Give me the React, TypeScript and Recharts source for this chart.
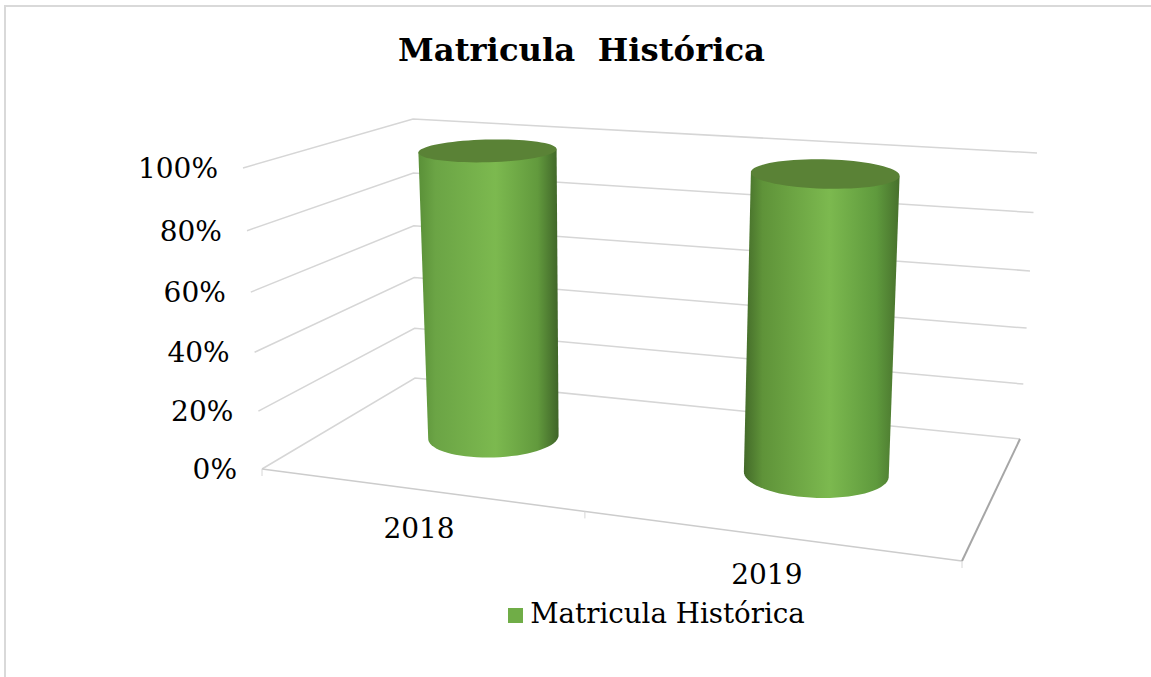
import { BarChart, Bar, XAxis, YAxis, Legend, Customized } from "recharts";

const categories = ["2018", "2019"];
const matricula = [100, 100];
const valueTicks = [0, 20, 40, 60, 80, 100];
const seriesName = "Matricula Histórica";

const data = categories.map((year, i) => ({ year, value: matricula[i] }));

const FONT = "'DejaVu Serif', serif";
const W = 1151;
const H = 677;
// plot rectangle: the front-left edge of the 3D box
const PLOT = { left: 262, right: 962, top: 168, bottom: 469 };

type Pt = [number, number];

// box corners on screen, [front-left, front-right, back-right, back-left]
const FLOOR: Pt[] = [[262, 469], [962, 561], [1020, 439], [415, 378]];
const CEILING: Pt[] = [[243, 168], [979, 233], [1037, 153], [413, 119]];

// the cylinders do not sit quite true to the box, per bar nudges
const TOP_SHIFT = [19, 24];
const TOP_SCALE = [1.07, 0.925];
const BASE_SHIFT = [6, 5.5];

// unit square -> quad
function homography(q: Pt[]) {
  const [[x0, y0], [x1, y1], [x2, y2], [x3, y3]] = q;
  const dx1 = x1 - x2, dx2 = x3 - x2, sx = x0 - x1 + x2 - x3;
  const dy1 = y1 - y2, dy2 = y3 - y2, sy = y0 - y1 + y2 - y3;
  const det = dx1 * dy2 - dx2 * dy1;
  const g = (sx * dy2 - dx2 * sy) / det;
  const h = (dx1 * sy - sx * dy1) / det;
  return (u: number, w: number): Pt => {
    const d = g * u + h * w + 1;
    return [
      ((x1 - x0 + g * x1) * u + (x3 - x0 + h * x3) * w + x0) / d,
      ((y1 - y0 + g * y1) * u + (y3 - y0 + h * y3) * w + y0) / d,
    ];
  };
}

const floorAt = homography(FLOOR);
const ceilAt = homography(CEILING);

// u across, w into the depth, v = value / 100
function project(u: number, w: number, v: number): Pt {
  const f = floorAt(u, w);
  const c = ceilAt(u, w);
  const k = 0.95;
  const t = (v * k) / (1 + (k - 1) * v);
  return [f[0] + (c[0] - f[0]) * t, f[1] + (c[1] - f[1]) * t];
}

const pathOf = (pts: Pt[]) => pts.map((p, i) => `${i ? "L" : "M"}${p[0].toFixed(1)} ${p[1].toFixed(1)}`).join(" ");

const GRADIENTS = [
  ["#5a9038", "#6ba445", "#7cb94f", "#629a3d", "#3f6428"],
  ["#436a29", "#5f9339", "#7cb94f", "#5f9a3d", "#47702c"],
];
const STOPS = ["0%", "12%", "55%", "85%", "100%"];

function Cylinder(props: any) {
  const { x, y, width, index } = props;
  const u = (x + width / 2 - PLOT.left) / (PLOT.right - PLOT.left);
  const v = (PLOT.bottom - y) / (PLOT.bottom - PLOT.top);
  const du = width / 2 / (PLOT.right - PLOT.left);
  const dw = 0.2;
  const ring = (val: number, shift: number, scale: number) => {
    const mid = project(u, 0.5, val)[0];
    const pts: Pt[] = [];
    for (let i = 0; i < 72; i++) {
      const a = (i / 72) * Math.PI * 2;
      const p = project(u + du * Math.cos(a), 0.5 + dw * Math.sin(a), val);
      pts.push([mid + (p[0] - mid) * scale + shift, p[1]]);
    }
    return pts;
  };
  const top = ring(v, TOP_SHIFT[index], TOP_SCALE[index]);
  const base = ring(0, BASE_SHIFT[index], 1);
  const leftmost = (p: Pt[]) => p.reduce((m, q) => (q[0] < m[0] ? q : m));
  const rightmost = (p: Pt[]) => p.reduce((m, q) => (q[0] > m[0] ? q : m));
  const bl = leftmost(base);
  const br = rightmost(base);
  // lower half of the base, right to left
  const lower = base
    .filter((p) => p[1] >= bl[1] + ((p[0] - bl[0]) / (br[0] - bl[0])) * (br[1] - bl[1]) - 0.5)
    .sort((a, b) => b[0] - a[0]);
  const body = pathOf([leftmost(top), rightmost(top), ...lower]) + " Z";
  const id = `cyl-${index}`;
  return (
    <g>
      <defs>
        <linearGradient id={id} x1="0" x2="1" y1="0" y2="0">
          {GRADIENTS[index].map((c, i) => (
            <stop key={i} offset={STOPS[i]} stopColor={c} />
          ))}
        </linearGradient>
      </defs>
      <path d={body} fill={`url(#${id})`} />
      <path d={pathOf(top) + " Z"} fill="#5a8236" />
    </g>
  );
}

function Walls() {
  const line = "#d6d6d6";
  return (
    <g fill="none" strokeWidth={1.5}>
      {valueTicks.map((t) => (
        <path key={t} d={pathOf([project(0, 0, t / 100), project(0, 1, t / 100), project(1, 1, t / 100)])} stroke={line} />
      ))}
      <path d={pathOf([FLOOR[0], FLOOR[1]])} stroke="#cccccc" />
      <path d={pathOf([FLOOR[1], FLOOR[2]])} stroke="#a6a6a6" strokeWidth={2} />
      {[0, 0.507, 1].map((u) => {
        const p = floorAt(u, 0);
        return <path key={u} d={pathOf([p, [p[0], p[1] + 7]])} stroke={line} strokeWidth={1} />;
      })}
    </g>
  );
}

function ValueTick(props: any) {
  const { payload } = props;
  const p = project(0, 0, payload.value / 100);
  return (
    <text x={p[0] - 25} y={p[1] + 10} textAnchor="end" fontFamily={FONT} fontSize={28} fill="#000">
      {payload.value}%
    </text>
  );
}

function YearTick(props: any) {
  const { x, payload } = props;
  const u = (x - PLOT.left) / (PLOT.right - PLOT.left);
  const p = floorAt(u, 0);
  return (
    <text x={p[0] + 5} y={p[1] + 49} textAnchor="middle" fontFamily={FONT} fontSize={28} fill="#000">
      {payload.value}
    </text>
  );
}

export default function App() {
  return (
    <div style={{ position: "absolute", left: 0, top: 0, width: W, height: H, overflow: "hidden", background: "#fff" }}>
      <div style={{ position: "absolute", left: 4, top: 5, width: W, height: H, border: "2px solid #d9d9d9", boxSizing: "border-box" }} />
      <div
        style={{
          position: "absolute",
          left: 398,
          top: 30,
          fontFamily: FONT,
          fontWeight: 700,
          fontSize: 32.3,
          lineHeight: "40px",
          whiteSpace: "pre",
          color: "#000",
        }}
      >
        Matricula  Histórica
      </div>
      <div style={{ position: "absolute", left: 0, top: 0 }}>
        <BarChart
          width={W}
          height={H}
          data={data}
          barCategoryGap={105}
          margin={{ top: PLOT.top, right: W - PLOT.right, bottom: H - PLOT.bottom - 30, left: 0 }}
        >
          <XAxis dataKey="year" height={30} axisLine={false} tickLine={false} tick={<YearTick />} interval={0} />
          <YAxis width={PLOT.left} domain={[0, 100]} ticks={valueTicks} axisLine={false} tickLine={false} tick={<ValueTick />} />
          <Customized component={Walls} />
          <Bar dataKey="value" name={seriesName} fill="#70ad47" legendType="square" shape={<Cylinder />} isAnimationActive={false} />
          <Legend
            layout="horizontal"
            verticalAlign="middle"
            iconSize={15}
            wrapperStyle={{ position: "absolute", left: 491.5, top: 597, width: 340, height: 36, fontFamily: FONT, fontSize: 27.7 }}
            formatter={(value) => <span style={{ color: "#000", marginLeft: 3 }}>{value}</span>}
          />
        </BarChart>
      </div>
    </div>
  );
}
